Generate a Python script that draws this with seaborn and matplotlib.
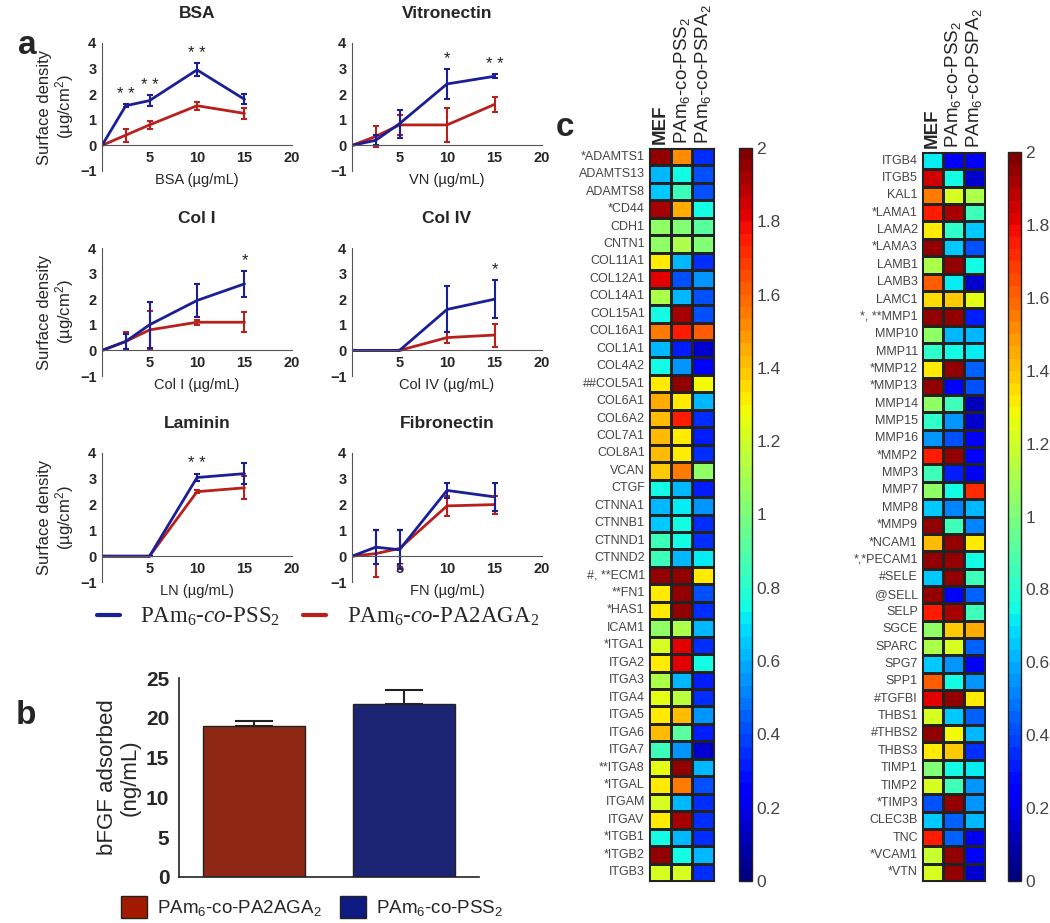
import numpy as np
import pandas as pd
import seaborn as sns
import matplotlib.pyplot as plt
from matplotlib.lines import Line2D
from matplotlib.patches import Patch

sns.set_style('white')
plt.rcParams['font.family'] = ['Liberation Sans', 'DejaVu Sans']
plt.rcParams['mathtext.default'] = 'regular'
plt.rcParams['mathtext.fontset'] = 'custom'
plt.rcParams['mathtext.it'] = 'Liberation Serif:italic'

# ---------------- data: panel a ----------------
panels = ['BSA', 'Vitronectin', 'Col I', 'Col IV', 'Laminin', 'Fibronectin']
xlabels = ['BSA (µg/mL)', 'VN (µg/mL)', 'Col I (µg/mL)', 'Col IV (µg/mL)',
           'LN (µg/mL)', 'FN (µg/mL)']
conc_5 = [0, 2.5, 5, 10, 15]
conc_4 = [0, 5, 10, 15]

bsa_pss = [0, 1.55, 1.75, 2.95, 1.8]
bsa_pss_err = [0, 0.06, 0.2, 0.25, 0.2]
bsa_pa = [0, 0.4, 0.8, 1.55, 1.25]
bsa_pa_err = [0, 0.25, 0.15, 0.15, 0.2]

vn_pss = [0, 0.2, 0.85, 2.4, 2.7]
vn_pss_err = [0, 0.2, 0.55, 0.6, 0.08]
vn_pa = [0, 0.35, 0.8, 0.8, 1.6]
vn_pa_err = [0, 0.4, 0.4, 0.65, 0.3]

col1_pss = [0, 0.35, 1.0, 1.95, 2.6]
col1_pss_err = [0, 0.3, 0.9, 0.65, 0.5]
col1_pa = [0, 0.35, 0.8, 1.1, 1.1]
col1_pa_err = [0, 0.35, 0.75, 0.1, 0.4]

col4_pss = [0, 0, 1.6, 2.0]
col4_pss_err = [0, 0, 0.9, 0.75]
col4_pa = [0, 0, 0.5, 0.6]
col4_pa_err = [0, 0, 0.2, 0.45]

ln_pss = [0, 0, 3.05, 3.2]
ln_pss_err = [0, 0, 0.15, 0.4]
ln_pa = [0, 0, 2.5, 2.65]
ln_pa_err = [0, 0, 0.05, 0.45]

fn_pss = [0, 0.35, 0.25, 2.55, 2.3]
fn_pss_err = [0, 0.65, 0.75, 0.3, 0.55]
fn_pa = [0, 0.1, 0.3, 1.95, 2.0]
fn_pa_err = [0, 0.9, 0.7, 0.4, 0.35]

stars = {'BSA': [(2.5, '* *'), (5, '* *'), (10, '* *')],
         'Vitronectin': [(10, '*'), (15, '* *')],
         'Col I': [(15, '*')],
         'Col IV': [(15, '*')],
         'Laminin': [(10, '* *')],
         'Fibronectin': []}

# ---------------- data: panel b ----------------
b_groups = ['PAm$_6$-co-PA2AGA$_2$', 'PAm$_6$-co-PSS$_2$']
b_values = [19.0, 21.7]
b_err = [0.6, 1.8]

# ---------------- data: panel c ----------------
c_cols = ['MEF', 'PAm$_6$-co-PSS$_2$', 'PAm$_6$-co-PSPA$_2$']
genes_left = ['*ADAMTS1', 'ADAMTS13', 'ADAMTS8', '*CD44', 'CDH1', 'CNTN1',
              'COL11A1', 'COL12A1', 'COL14A1', 'COL15A1', 'COL16A1', 'COL1A1',
              'COL4A2', '##COL5A1', 'COL6A1', 'COL6A2', 'COL7A1', 'COL8A1',
              'VCAN', 'CTGF', 'CTNNA1', 'CTNNB1', 'CTNND1', 'CTNND2',
              '#, **ECM1', '**FN1', '*HAS1', 'ICAM1', '*ITGA1', 'ITGA2',
              'ITGA3', 'ITGA4', 'ITGA5', 'ITGA6', 'ITGA7', '**ITGA8',
              '*ITGAL', 'ITGAM', 'ITGAV', '*ITGB1', '*ITGB2', 'ITGB3']
mef_left = [1.95, 0.6, 0.65, 1.9, 1.05, 1.05, 1.3, 1.8, 1.1, 0.75, 1.55, 0.6,
            0.75, 1.3, 1.45, 1.4, 1.4, 1.4, 1.38, 0.75, 0.6, 0.65, 0.85, 0.85,
            1.95, 1.3, 1.3, 1.05, 1.2, 1.3, 1.1, 1.25, 1.3, 1.4, 0.85, 1.25,
            1.3, 1.2, 1.3, 0.75, 1.95, 1.2]
pss_left = [1.5, 0.75, 0.85, 1.45, 1.0, 1.1, 0.6, 0.4, 0.6, 1.9, 1.75, 0.3,
            0.55, 1.95, 1.3, 1.75, 1.3, 1.3, 1.55, 0.6, 0.7, 0.75, 0.75, 0.6,
            1.95, 1.95, 1.95, 1.1, 1.8, 1.8, 0.6, 1.15, 1.4, 0.9, 0.55, 1.95,
            1.55, 0.6, 1.9, 0.6, 0.75, 1.2]
pspa_left = [0.35, 0.4, 0.4, 0.75, 0.9, 1.0, 0.35, 0.55, 0.4, 0.4, 1.6, 0.15,
             0.25, 1.28, 0.6, 0.35, 0.3, 0.35, 1.05, 0.3, 0.55, 0.35, 0.35, 0.7,
             1.3, 0.4, 0.35, 0.6, 0.35, 0.75, 0.3, 0.35, 0.55, 0.3, 0.15, 0.6,
             0.4, 0.35, 0.35, 0.35, 0.6, 0.35]

genes_right = ['ITGB4', 'ITGB5', 'KAL1', '*LAMA1', 'LAMA2', '*LAMA3', 'LAMB1',
               'LAMB3', 'LAMC1', '*, **MMP1', 'MMP10', 'MMP11', '*MMP12',
               '*MMP13', 'MMP14', 'MMP15', 'MMP16', '*MMP2', 'MMP3', 'MMP7',
               'MMP8', '*MMP9', '*NCAM1', '*,*PECAM1', '#SELE', '@SELL', 'SELP',
               'SGCE', 'SPARC', 'SPG7', 'SPP1', '#TGFBI', 'THBS1', '#THBS2',
               'THBS3', 'TIMP1', 'TIMP2', '*TIMP3', 'CLEC3B', 'TNC', '*VCAM1',
               '*VTN']
mef_right = [0.7, 1.85, 1.55, 1.75, 1.3, 1.95, 1.1, 1.6, 1.35, 1.95, 1.05, 0.8,
             1.3, 1.95, 1.05, 0.8, 0.55, 1.75, 0.85, 1.05, 0.65, 1.95, 1.4,
             1.95, 0.65, 1.95, 1.75, 1.05, 1.1, 0.65, 1.6, 1.8, 1.22, 1.95, 1.3,
             1.0, 1.22, 0.4, 0.65, 1.75, 1.18, 1.22]
pss_right = [0.25, 0.75, 1.2, 1.9, 0.8, 0.65, 1.95, 0.7, 1.38, 1.95, 0.6, 0.75,
             1.95, 0.25, 0.85, 0.55, 0.4, 1.95, 0.3, 0.75, 0.5, 0.85, 1.95,
             1.95, 1.95, 0.25, 1.9, 1.38, 1.2, 0.55, 0.75, 1.95, 0.65, 1.28,
             1.38, 0.75, 0.85, 1.95, 0.45, 0.45, 1.95, 1.95]
pspa_right = [0.25, 0.15, 1.1, 0.85, 0.65, 0.4, 0.75, 0.15, 1.25, 0.3, 0.6,
              0.7, 0.45, 0.4, 0.1, 0.15, 0.25, 0.25, 0.2, 1.7, 0.6, 0.5, 1.3,
              0.75, 0.85, 0.45, 0.85, 1.45, 0.45, 0.2, 0.55, 1.3, 0.45, 0.6,
              0.35, 0.7, 0.55, 0.55, 0.6, 0.2, 0.25, 0.15]

blue = '#1b1f96'
red = '#b8201c'

W, H = 1050, 923
fig = plt.figure(figsize=(W / 100, H / 100), dpi=100)


def ax_px(x0, y0, x1, y1):
    return fig.add_axes([x0 / W, 1 - y1 / H, (x1 - x0) / W, (y1 - y0) / H])


# ---------------- panel a ----------------
line_sets = [(conc_5, bsa_pss, bsa_pss_err, bsa_pa, bsa_pa_err),
             (conc_5, vn_pss, vn_pss_err, vn_pa, vn_pa_err),
             (conc_5, col1_pss, col1_pss_err, col1_pa, col1_pa_err),
             (conc_4, col4_pss, col4_pss_err, col4_pa, col4_pa_err),
             (conc_4, ln_pss, ln_pss_err, ln_pa, ln_pa_err),
             (conc_5, fn_pss, fn_pss_err, fn_pa, fn_pa_err)]
col_x = [(102, 292), (352, 542)]
row_y = [(43, 171), (248, 376), (453, 582)]

for i, name in enumerate(panels):
    r, c = divmod(i, 2)
    ax = ax_px(col_x[c][0], row_y[r][0], col_x[c][1], row_y[r][1])
    xs, pss, pss_e, pa, pa_e = line_sets[i]
    df = pd.DataFrame({'x': xs * 2, 'y': pa + pss,
                       'grp': ['pa'] * len(xs) + ['pss'] * len(xs)})
    sns.lineplot(data=df, x='x', y='y', hue='grp', palette={'pa': red, 'pss': blue},
                 lw=2, legend=False, ax=ax)
    ax.errorbar(xs, pa, yerr=pa_e, fmt='none', ecolor=red, elinewidth=1.5,
                capsize=2, capthick=1.5)
    ax.errorbar(xs, pss, yerr=pss_e, fmt='none', ecolor=blue, elinewidth=1.5,
                capsize=2, capthick=1.5)
    for xv, s in stars[name]:
        k = xs.index(xv)
        ax.text(xv, pss[k] + pss_e[k] + 0.1, s, ha='center', va='bottom',
                fontsize=12, color='#222222')
    ax.set_xlim(0, 20)
    ax.set_ylim(-1, 4)
    ax.spines['bottom'].set_position(('data', 0))
    ax.spines['top'].set_visible(False)
    ax.spines['right'].set_visible(False)
    for sp in ['left', 'bottom']:
        ax.spines[sp].set_color('#555555')
        ax.spines[sp].set_linewidth(0.8)
    ax.set_xticks([5, 10, 15, 20])
    ax.set_yticks([-1, 0, 1, 2, 3, 4])
    ax.tick_params(axis='both', length=3, width=0.8, color='#555555',
                   labelsize=10.5, pad=1, direction='out')
    for lab in ax.get_xticklabels() + ax.get_yticklabels():
        lab.set_fontweight('bold')
    ax.set_xlabel('')
    ax.set_ylabel('')
    ax.text(0.5, -0.07, xlabels[i], transform=ax.transAxes, ha='center',
            va='center', fontsize=10.5)
    ax.set_title(name, fontsize=12.5, fontweight='bold', pad=18)
    if c == 0:
        ax.set_ylabel('Surface density\n(µg/cm$^2$)', fontsize=12, labelpad=3,
                      linespacing=1.05)

fig.text(18 / W, 1 - 46 / H, 'a', fontsize=24, fontweight='bold', va='center')

leg_a = [Line2D([], [], color=blue, lw=3), Line2D([], [], color=red, lw=3)]
fig.legend(leg_a, ['PAm$_6$-$\\mathit{co}$-PSS$_2$',
                   'PAm$_6$-$\\mathit{co}$-PA2AGA$_2$'],
           loc='center', bbox_to_anchor=(318 / W, 1 - 617 / H), ncol=2,
           frameon=False, handlelength=1.0, columnspacing=1.0,
           handletextpad=0.9, prop={'family': 'Liberation Serif', 'size': 16.5})

# ---------------- panel b ----------------
axb = ax_px(179, 678, 479, 877)
dfb = pd.DataFrame({'grp': b_groups, 'val': b_values})
sns.barplot(data=dfb, x='grp', y='val', hue='grp',
            palette=['#a21a00', '#0c1a82'], width=0.68, edgecolor='#222222',
            linewidth=1, legend=False, ax=axb)
axb.errorbar([0, 1], b_values, yerr=[[0, 0], b_err], fmt='none',
             ecolor='#222222', elinewidth=1.5, capsize=14, capthick=1.5)
axb.set_xlim(-0.5, 1.5)
axb.set_ylim(0, 25)
axb.set_yticks([0, 5, 10, 15, 20, 25])
axb.set_xticks([0, 1])
axb.set_xticklabels(['', ''])
axb.set_xlabel('')
axb.set_ylabel('bFGF adsorbed\n(ng/mL)', fontsize=16, linespacing=1.1)
for sp in ['top', 'right']:
    axb.spines[sp].set_visible(False)
for sp in ['left', 'bottom']:
    axb.spines[sp].set_color('#222222')
    axb.spines[sp].set_linewidth(1.2)
axb.tick_params(axis='both', length=5, width=1.2, color='#222222',
                labelsize=15, pad=2)
for lab in axb.get_yticklabels():
    lab.set_fontweight('bold')
fig.text(16 / W, 1 - 716 / H, 'b', fontsize=24, fontweight='bold', va='center')
leg_b = [Patch(facecolor='#a21a00', edgecolor='#222222'),
         Patch(facecolor='#0c1a82', edgecolor='#222222')]
fig.legend(leg_b, b_groups, loc='center', bbox_to_anchor=(312 / W, 1 - 907 / H),
           ncol=2, frameon=False, fontsize=13.5, handlelength=1.4,
           handleheight=1.4, columnspacing=1.0, handletextpad=0.5)

# ---------------- panel c ----------------
cmap = plt.get_cmap('jet', 60)


def heat(genes, mef, pss, pspa, cell_box, cbar_box):
    ax = ax_px(*cell_box)
    cax = ax_px(*cbar_box)
    mat = pd.DataFrame({c_cols[0]: mef, c_cols[1]: pss, c_cols[2]: pspa},
                       index=genes)
    sns.heatmap(mat, cmap=cmap, vmin=0, vmax=2, linewidths=0.8,
                linecolor='#222222', ax=ax, cbar_ax=cax,
                cbar_kws={'ticks': np.arange(0, 2.01, 0.2)})
    ax.xaxis.tick_top()
    ax.set_xticklabels(c_cols, rotation=90, fontsize=13.5, va='bottom',
                       family=['Liberation Sans Narrow', 'Liberation Sans'])
    ax.get_xticklabels()[0].set_fontweight('bold')
    ax.set_yticklabels(genes, rotation=0, fontsize=9, color='#444444')
    ax.tick_params(length=0, pad=3)
    for sp in ax.spines.values():
        sp.set_visible(True)
        sp.set_color('#222222')
    cax.set_yticklabels(['%g' % t for t in np.arange(0, 2.01, 0.2)],
                        fontsize=12.5, color='#444444')
    cax.tick_params(length=0, pad=3)
    cb = ax.collections[0].colorbar
    cb.outline.set_edgecolor('#222222')
    cb.outline.set_linewidth(1)


heat(genes_left, mef_left, pss_left, pspa_left,
     (649, 148, 714, 881), (739, 148, 752, 881))
heat(genes_right, mef_right, pss_right, pspa_right,
     (922, 152, 985, 881), (1008, 152, 1021, 881))
fig.text(556 / W, 1 - 128 / H, 'c', fontsize=24, fontweight='bold', va='center')

fig.savefig('out.png', dpi=100)
